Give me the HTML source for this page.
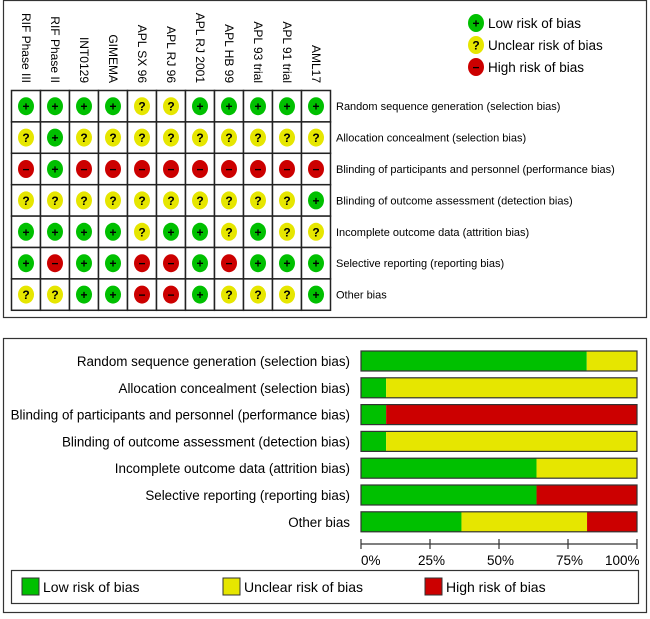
<!DOCTYPE html>
<html><head><meta charset="utf-8"><style>
body{margin:0;background:#fff;font-family:"Liberation Sans",Arial,sans-serif}
svg text{font-family:"Liberation Sans",Arial,sans-serif}
</style></head><body>
<svg id="c" width="650" height="614" viewBox="0 0 650 614" xmlns="http://www.w3.org/2000/svg">
<rect x="3.5" y="0.5" width="643" height="317" fill="#fff" stroke="#333" stroke-width="1.2"/>
<rect x="3.5" y="338.5" width="643" height="274" fill="#fff" stroke="#333" stroke-width="1.2"/>
<g id="gtop"></g><g id="gbot"></g>
</svg>
<script>
const studies=["RIF Phase III","RIF Phase II","INT0129","GIMEMA","APL SX 96","APL RJ 96","APL RJ 2001","APL HB 99","APL 93 trial","APL 91 trial","AML17"];
const domains=["Random sequence generation (selection bias)","Allocation concealment (selection bias)","Blinding of participants and personnel (performance bias)","Blinding of outcome assessment (detection bias)","Incomplete outcome data (attrition bias)","Selective reporting (reporting bias)","Other bias"];
const judgments=[
"LLLL??LLLLL",
"?L?????????",
"HLHHHHHHHHH",
"??????????L",
"LLLL?LL?L??",
"LHLLHHLHLLL",
"??LLHHL???L"];
const lowPct=[81.8,9.1,9.1,9.1,63.6,63.6,36.4];
const unclearPct=[18.2,90.9,0,90.9,36.4,0,45.5];
const highPct=[0,0,90.9,0,0,36.4,18.2];
const tickLabels=["0%","25%","50%","75%","100%"];
const tickVals=[0,25,50,75,100];
const NS="http://www.w3.org/2000/svg";
const col={L:"#00c000",U:"#e6e600",H:"#cc0000"};
function mk(t,a,p){const e=document.createElementNS(NS,t);for(const k in a)e.setAttribute(k,a[k]);p.appendChild(e);return e;}
const gTop=document.getElementById('gtop'),gBot=document.getElementById('gbot');
const gx0=11.5,gy0=90.5,cw=29,rh=31.4;
const gx=i=>gx0+i*cw, gy=j=>gy0+j*rh;
function drawSym(k,cx,cy,name){
 const c=k==='L'?col.L:k==='H'?col.H:col.U;
 const e=mk('ellipse',{cx:cx,cy:cy,rx:8,ry:9,fill:c},gTop);
 
 
 const t=mk('text',{x:cx,y:cy+4.5,'font-size':12,'font-weight':'bold','text-anchor':'middle',fill:'#000'},gTop);
 t.textContent=k==='L'?'+':k==='H'?'−':'?';
}
studies.forEach((s,i)=>{
 const t=mk('text',{x:0,y:0,'font-size':12,'text-anchor':'end',transform:`translate(${gx(i)+cw/2-4},83) rotate(90)`},gTop);
 t.textContent=s;
 
 
});
domains.forEach((d,j)=>{
 const t=mk('text',{x:336,y:gy(j)+rh/2+4,'font-size':11},gTop);
 t.textContent=d;
 
 
 studies.forEach((s,i)=>{
  const r=mk('rect',{x:gx(i),y:gy(j),width:cw,height:rh,fill:'#fff',stroke:'#222','stroke-width':1.5},gTop);
  
  
  drawSym(judgments[j][i],gx(i)+cw/2,gy(j)+rh/2,'judgment-symbol');
 });
});
[["L","Low risk of bias",23],["U","Unclear risk of bias",45],["H","High risk of bias",67]].forEach(l=>{
 drawSym(l[0],476,l[2],'legend-symbol');
 const t=mk('text',{x:488,y:l[2]+5,'font-size':13.5},gTop);
 t.textContent=l[1];
 
 
});
const bx0=361,bw=276,by0=351,bstep=26.8,bh=20;
const xs=v=>bx0+v/100*bw, ys=j=>by0+j*bstep;
domains.forEach((d,j)=>{
 const t=mk('text',{x:350,y:ys(j)+bh/2+5,'font-size':13.4,'text-anchor':'end'},gBot);
 t.textContent=d;
 
 
 let acc=0;
 [[lowPct[j],col.L],[unclearPct[j],col.U],[highPct[j],col.H]].forEach(([v,c])=>{
  if(v<=0)return;
  const r=mk('rect',{x:xs(acc),y:ys(j),width:xs(acc+v)-xs(acc),height:bh,fill:c},gBot);
  
  
  acc+=v;
 });
 const o=mk('rect',{x:bx0,y:ys(j),width:bw,height:bh,fill:'none',stroke:'#333','stroke-width':1.2},gBot);
 
 
});
const ax=mk('line',{x1:xs(0),x2:xs(100),y1:544,y2:544,stroke:'#333','stroke-width':1.2},gBot);


tickVals.forEach((v,i)=>{
 mk('line',{x1:xs(v),x2:xs(v),y1:539,y2:549,stroke:'#333','stroke-width':1.2},gBot);
 const t=mk('text',{x:xs(v)+(i===0?0:i===4?-32:-12),y:565,'font-size':13.5},gBot);
 t.textContent=tickLabels[i];
 
 
});
const lb=mk('rect',{x:11.5,y:570.5,width:627,height:33,fill:'#fff',stroke:'#333','stroke-width':1.2},gBot);


[[col.L,"Low risk of bias",22],[col.U,"Unclear risk of bias",223],[col.H,"High risk of bias",425]].forEach(l=>{
 const r=mk('rect',{x:l[2],y:578,width:17,height:17,fill:l[0],stroke:'#333','stroke-width':1},gBot);
 
 
 const t=mk('text',{x:l[2]+21,y:592,'font-size':14},gBot);
 t.textContent=l[1];
 
 
});
</script>
</body></html>
